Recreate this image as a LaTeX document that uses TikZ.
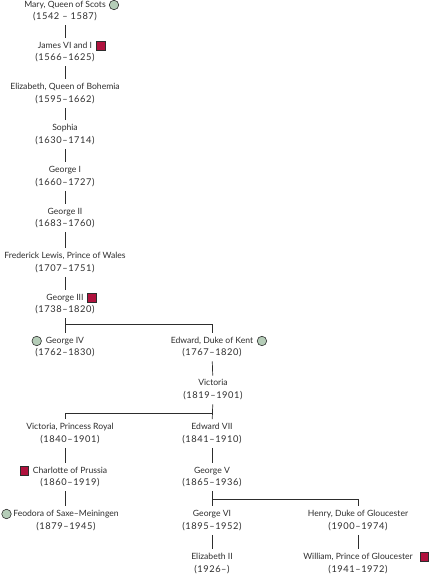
\documentclass[tikz,border=0pt]{standalone}
\usepackage{fontspec}
\setmainfont{Lato}
\usepackage{tikz}
\usetikzlibrary{positioning}
\definecolor{sagegreen}{RGB}{181, 205, 184}
\definecolor{crimsonred}{RGB}{176, 18, 62}
\definecolor{inkgrey}{RGB}{45, 45, 45}
\tikzstyle{royal} = [inner xsep=0pt, inner ysep=4pt, text height=6pt, text depth=1.5pt, font=\fontsize{8.6}{10}\selectfont, text=inkgrey]
\tikzstyle{reign} = [royal, font=\fontsize{9.3}{10}\selectfont\addfontfeature{LetterSpace=6}]
\tikzstyle{link} = [draw=inkgrey, line width=0.7pt]
\tikzstyle{roundmark} = [circle, draw=inkgrey, fill=sagegreen, line width=0.6pt, minimum size=9.5pt, inner sep=0pt]
\tikzstyle{squaremark} = [rectangle, draw=inkgrey, fill=crimsonred, line width=0.6pt, minimum size=8.5pt, inner sep=0pt]

\begin{document}
\begin{tikzpicture}[x=1pt, y=-1pt]
    \useasboundingbox (0,0) rectangle (430,575);
    \coordinate (lt) at (65,0);

    % Main line of descent
    \node[royal] (maryN) at (65,5) {Mary, Queen of Scots};
    \node[reign] (maryD) at (65,17.5) {(1542 – 1587)};
    \node[royal] (jamesN) at (65,46) {James VI and I};
    \node[reign] (jamesD) at (65,58.5) {(1566–1625)};
    \node[royal] (elizN) at (65,87) {Elizabeth, Queen of Bohemia};
    \node[reign] (elizD) at (65,100) {(1595–1662)};
    \node[royal] (sophN) at (65,128) {Sophia};
    \node[reign] (sophD) at (65,141) {(1630–1714)};
    \node[royal] (geoaN) at (65,170) {George I};
    \node[reign] (geoaD) at (65,183) {(1660–1727)};
    \node[royal] (geobN) at (65,212) {George II};
    \node[reign] (geobD) at (65,224.5) {(1683–1760)};
    \node[royal] (fredN) at (65,256) {Frederick Lewis, Prince of Wales};
    \node[reign] (fredD) at (65,269) {(1707–1751)};
    \node[royal] (geocN) at (65,298) {George III};
    \node[reign] (geocD) at (65,310.5) {(1738–1820)};

    % Sons of George III
    \node[royal] (geodN) at (65,341) {George IV};
    \node[reign] (geodD) at (65,353.5) {(1762–1830)};
    \node[royal] (kentN) at (212,341) {Edward, Duke of Kent};
    \node[reign] (kentD) at (212,353.5) {(1767–1820)};
    \node[royal] (vicN) at (213,383.5) {Victoria};
    \node[reign] (vicD) at (213,396.5) {(1819–1901)};

    % Children of Victoria
    \node[royal] (vprN) at (70,427) {Victoria, Princess Royal};
    \node[reign] (vprD) at (70,440) {(1840–1901)};
    \node[royal] (charN) at (70,471) {Charlotte of Prussia};
    \node[reign] (charD) at (70,483.5) {(1860–1919)};
    \node[royal] (feoN) at (66,514) {Feodora of Saxe–Meiningen};
    \node[reign] (feoD) at (66,527) {(1879–1945)};
    \node[royal] (edsN) at (212,427) {Edward VII};
    \node[reign] (edsD) at (212,440) {(1841–1910)};
    \node[royal] (geoeN) at (212,471) {George V};
    \node[reign] (geoeD) at (212,483.5) {(1865–1936)};
    \node[royal] (geofN) at (212,514) {George VI};
    \node[reign] (geofD) at (212,527) {(1895–1952)};
    \node[royal] (elizbN) at (212,557) {Elizabeth II};
    \node[reign] (elizbD) at (212,570) {(1926–)};
    \node[royal] (henN) at (358,514) {Henry, Duke of Gloucester};
    \node[reign] (henD) at (358,527) {(1900–1974)};
    \node[royal] (wilN) at (358,557) {William, Prince of Gloucester};
    \node[reign] (wilD) at (358,570) {(1941–1972)};

    % Markers
    \node[roundmark, right=3pt of maryN] {};
    \node[squaremark, right=4pt of jamesN] {};
    \node[squaremark, right=3.5pt of geocN] {};
    \node[roundmark, left=4pt of geodN] {};
    \node[roundmark, right=3.5pt of kentN] {};
    \node[squaremark, left=4pt of charN] {};
    \node[roundmark, left=1.5pt of feoN] {};
    \node[squaremark, right=7pt of wilN] {};

    % Connectors
    \draw[link] (maryD) -- (jamesN);
    \draw[link] (jamesD) -- (elizN);
    \draw[link] (elizD) -- (sophN);
    \draw[link] (sophD) -- (geoaN);
    \draw[link] (geoaD) -- (geobN);
    \draw[link] (geobD) -- (fredN);
    \draw[link] (fredD) -- (geocN);
    \draw[link] (geocD) -- (geodN);
    \coordinate (splitA) at (65,324.5);
    \draw[link] (splitA) -| (kentN);
    \draw[link] (kentD) -- (vicN);
    \draw[link] (vicD) -- (edsN);
    \coordinate (splitB) at (212,413);
    \draw[link] (splitB) -| (vprN.north -| lt);
    \draw[link] (vprD.south -| lt) -- (charN.north -| lt);
    \draw[link] (charD.south -| lt) -- (feoN.north -| lt);
    \draw[link] (edsD) -- (geoeN);
    \draw[link] (geoeD) -- (geofN);
    \coordinate (splitC) at (212,499);
    \draw[link] (splitC) -| (henN);
    \draw[link] (geofD) -- (elizbN);
    \draw[link] (henD) -- (wilN);
\end{tikzpicture}
\end{document}
